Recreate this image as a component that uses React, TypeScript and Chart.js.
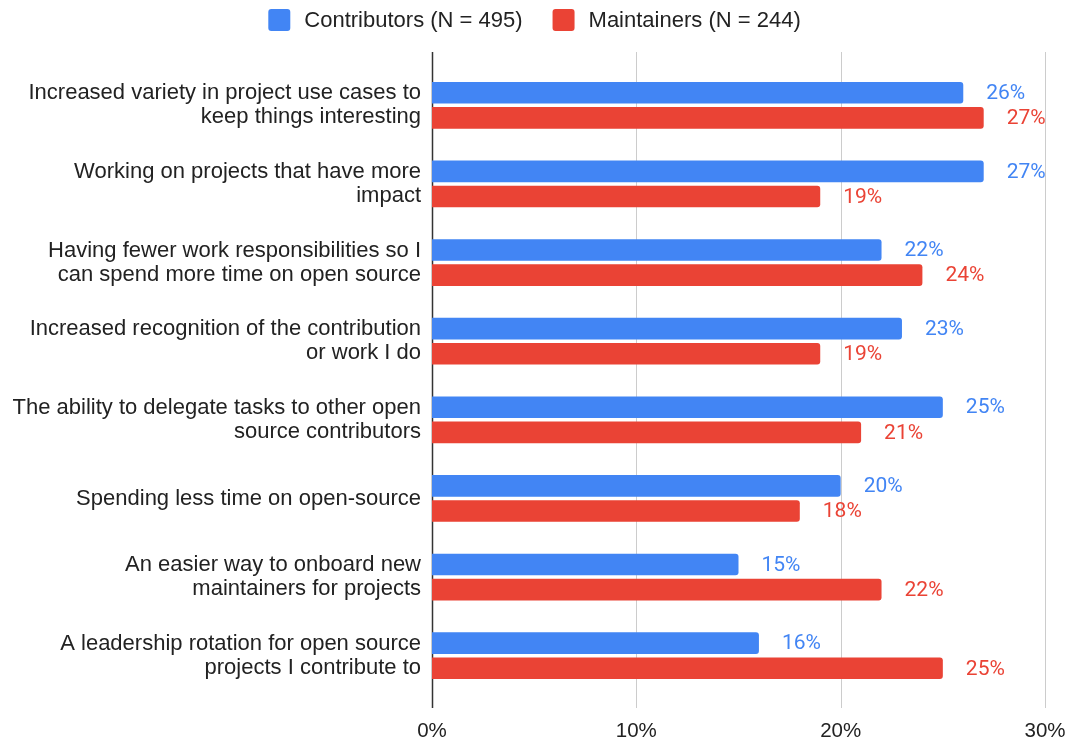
import React, { useEffect, useRef } from "react";
import { Chart, registerables } from "chart.js";

Chart.register(...registerables);

const categories: string[][] = [
  ["Increased variety in project use cases to", "keep things interesting"],
  ["Working on projects that have more", "impact"],
  ["Having fewer work responsibilities so I", "can spend more time on open source"],
  ["Increased recognition of the contribution", "or work I do"],
  ["The ability to delegate tasks to other open", "source contributors"],
  ["Spending less time on open-source"],
  ["An easier way to onboard new", "maintainers for projects"],
  ["A leadership rotation for open source", "projects I contribute to"],
];

const seriesNames = ["Contributors (N = 495)", "Maintainers (N = 244)"];
const contributors = [26, 27, 22, 23, 25, 20, 15, 16];
const maintainers = [27, 19, 24, 19, 21, 18, 22, 25];
const xTicks = [0, 10, 20, 30];

const BLUE = "#4285F4";
const RED = "#EA4335";
const LABEL_FONT = "'Liberation Sans', Arial, sans-serif";
const VALUE_FONT = "Roboto, 'Liberation Sans', sans-serif";

const gridPlugin = {
  id: "customGrid",
  beforeDatasetsDraw(chart: any) {
    const { ctx, chartArea, scales } = chart;
    const x = scales.x;
    ctx.save();
    xTicks.forEach((t) => {
      const px = Math.round(x.getPixelForValue(t)) + 0.5;
      ctx.beginPath();
      ctx.strokeStyle = t === 0 ? "#333333" : "#cccccc";
      ctx.lineWidth = t === 0 ? 1.5 : 1;
      ctx.moveTo(px, chartArea.top - 14);
      ctx.lineTo(px, chartArea.bottom + 13);
      ctx.stroke();
    });
    ctx.restore();
  },
};

const valueLabelPlugin = {
  id: "valueLabels",
  afterDatasetsDraw(chart: any) {
    const { ctx } = chart;
    ctx.save();
    ctx.font = `21px ${VALUE_FONT}`;
    ctx.textBaseline = "middle";
    ctx.textAlign = "left";
    chart.data.datasets.forEach((ds: any, i: number) => {
      const meta = chart.getDatasetMeta(i);
      ctx.fillStyle = ds.backgroundColor;
      meta.data.forEach((el: any, j: number) => {
        ctx.fillText(`${ds.data[j]}%`, el.x + 23, el.y + 1);
      });
    });
    ctx.restore();
  },
};

const legendPlugin = {
  id: "customLegend",
  afterDraw(chart: any) {
    const { ctx } = chart;
    ctx.save();
    ctx.font = `22px ${LABEL_FONT}`;
    ctx.textBaseline = "middle";
    ctx.textAlign = "left";
    const box = 22;
    const gap = 14;
    const itemGap = 30;
    const widths = chart.data.datasets.map(
      (ds: any) => box + gap + ctx.measureText(ds.label).width
    );
    const total = widths.reduce((a: number, b: number) => a + b, 0) + itemGap * (widths.length - 1);
    let xPos = (chart.width - total) / 2;
    const yc = 20;
    chart.data.datasets.forEach((ds: any, i: number) => {
      ctx.fillStyle = ds.backgroundColor;
      ctx.beginPath();
      (ctx as any).roundRect(xPos, yc - box / 2, box, box, 3);
      ctx.fill();
      ctx.fillStyle = "#222222";
      ctx.fillText(ds.label, xPos + box + gap, yc + 1);
      xPos += widths[i] + itemGap;
    });
    ctx.restore();
  },
};

export default function App() {
  const ref = useRef<HTMLCanvasElement | null>(null);
  useEffect(() => {
    if (!ref.current) return;
    const chart = new Chart(ref.current, {
      type: "bar",
      data: {
        labels: categories,
        datasets: [
          {
            label: seriesNames[0],
            data: contributors,
            backgroundColor: BLUE,
            borderRadius: 3,
            categoryPercentage: 0.64,
            barPercentage: 0.86,
          },
          {
            label: seriesNames[1],
            data: maintainers,
            backgroundColor: RED,
            borderRadius: 3,
            categoryPercentage: 0.64,
            barPercentage: 0.86,
          },
        ],
      },
      options: {
        indexAxis: "y",
        animation: false,
        responsive: true,
        maintainAspectRatio: false,
        layout: { padding: { top: 66, right: 24, left: 0, bottom: 0 } },
        plugins: {
          legend: { display: false },
          tooltip: { enabled: false },
        },
        scales: {
          x: {
            min: 0,
            max: 30,
            grid: { display: false },
            border: { display: false },
            ticks: {
              stepSize: 10,
              padding: 16,
              color: "#222222",
              font: { family: LABEL_FONT, size: 20.5 },
              callback: (v: any) => `${v}%`,
            },
            afterFit: (scale: any) => {
              scale.height = 45;
              scale.paddingRight = 0;
              scale.paddingLeft = 0;
            },
          },
          y: {
            grid: { display: false, drawTicks: false },
            border: { display: false },
            ticks: {
              padding: 11,
              color: "#222222",
              font: { family: LABEL_FONT, size: 22, lineHeight: 1.09 },
            },
            afterFit: (scale: any) => {
              scale.width = 432;
            },
          },
        },
      },
      plugins: [gridPlugin, valueLabelPlugin, legendPlugin],
    });
    return () => chart.destroy();
  }, []);
  return (
    <div style={{ position: "absolute", left: 0, top: 0, width: 1069, height: 740, background: "#fff" }}>
      <canvas ref={ref} />
    </div>
  );
}
